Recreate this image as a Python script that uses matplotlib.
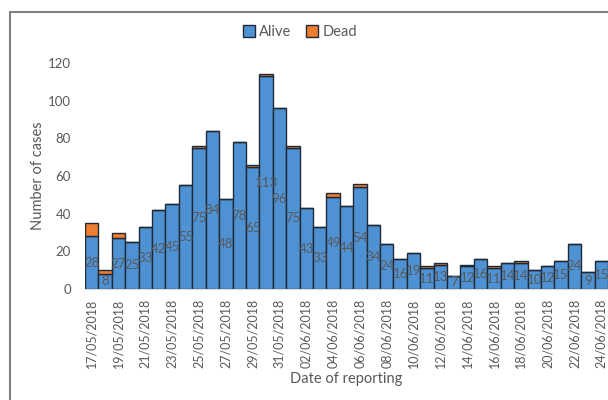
import numpy as np
import matplotlib.pyplot as plt
from matplotlib.patches import Rectangle

dates = ["17/05/2018", "18/05/2018", "19/05/2018", "20/05/2018", "21/05/2018",
         "22/05/2018", "23/05/2018", "24/05/2018", "25/05/2018", "26/05/2018",
         "27/05/2018", "28/05/2018", "29/05/2018", "30/05/2018", "31/05/2018",
         "01/06/2018", "02/06/2018", "03/06/2018", "04/06/2018", "05/06/2018",
         "06/06/2018", "07/06/2018", "08/06/2018", "09/06/2018", "10/06/2018",
         "11/06/2018", "12/06/2018", "13/06/2018", "14/06/2018", "15/06/2018",
         "16/06/2018", "17/06/2018", "18/06/2018", "19/06/2018", "20/06/2018",
         "21/06/2018", "22/06/2018", "23/06/2018", "24/06/2018"]
alive = [28, 8, 27, 25, 33, 42, 45, 55, 75, 84, 48, 78, 65, 113, 96, 75, 43, 33,
         49, 44, 54, 34, 24, 16, 19, 11, 13, 7, 12, 16, 11, 14, 14, 10, 12, 15, 24, 9, 15]
dead = [7, 2, 3, 0, 0, 0, 0, 0, 1, 0, 0, 0, 1, 1, 0, 1, 0, 0,
        2, 0, 2, 0, 0, 0, 0, 1, 1, 0, 1, 0, 1, 0, 1, 0, 0, 0, 0, 0, 0]

plt.rcParams['font.family'] = ['Lato', 'DejaVu Sans']
gray = '#595959'

fig = plt.figure(figsize=(6.08, 4.0), dpi=100)
ax = fig.add_axes([85 / 608, 1 - 289 / 400, 1 - 85 / 608, (289 - 63) / 400])

x = np.arange(len(dates))
ax.bar(x, alive, width=1.0, color='#4f92d3', edgecolor='#1f2a38', linewidth=1.0, label='Alive')
ax.bar(x, dead, width=1.0, bottom=alive, color='#ed7d31', edgecolor='#1f2a38', linewidth=1.0, label='Dead')

# labels of the alive counts, centred in each blue segment
for xi, a in zip(x, alive):
    ax.text(xi, a / 2, str(a), ha='center', va='center', color=gray, fontsize=9.5)

ax.set_xlim(-0.5, len(dates) - 0.5)
ax.set_ylim(0, 120)
ax.set_yticks(range(0, 121, 20))
ax.set_xticks(x[::2])
ax.set_xticklabels(dates[::2], rotation=90)
ax.tick_params(axis='both', length=0, colors=gray, labelsize=9.5)
ax.tick_params(axis='x', pad=7, labelsize=9)
ax.tick_params(axis='y', pad=10)
for s in ['top', 'right', 'left']:
    ax.spines[s].set_visible(False)
ax.spines['bottom'].set_color('#d9d9d9')

ax.set_ylabel('Number of cases', color=gray, fontsize=10.5, labelpad=2)
ax.set_xlabel('Date of reporting', color=gray, fontsize=10.5, labelpad=3)

fig.legend(loc='center', bbox_to_anchor=(300 / 608, 1 - 32 / 400), ncol=2, frameon=False,
           fontsize=10.5, labelcolor=gray, handlelength=0.8, handleheight=0.8,
           handletextpad=0.3, columnspacing=1.0)

fig.patches.append(Rectangle((10 / 608, -0.1), 1.2, 1.07, transform=fig.transFigure,
                             fill=False, edgecolor='#7f7f7f', linewidth=1.5))

fig.savefig('out.png', dpi=100)
